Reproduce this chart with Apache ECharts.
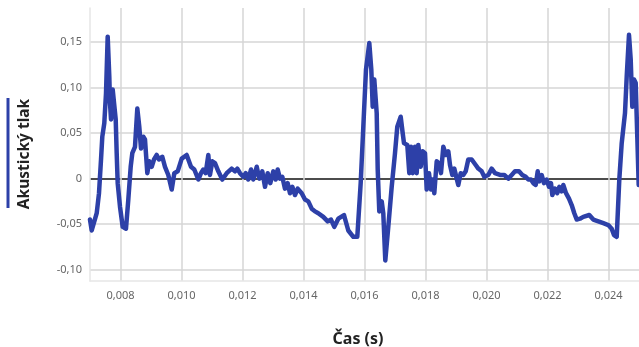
<!DOCTYPE html>
<html>
<head>
<meta charset="utf-8">
<script src="https://cdn.jsdelivr.net/npm/echarts@6/dist/echarts.min.js"></script>
<style>
  html, body { margin: 0; padding: 0; background: #fff; }
  #chart { width: 639px; height: 347px; }
</style>
</head>
<body>
<div id="chart"></div>
<script>
// čas v ms
const timeMs = [
  7.000, 7.056, 7.220, 7.295, 7.361, 7.403, 7.469, 7.525, 7.580, 7.633, 7.656, 7.689, 7.744, 7.797, 7.843, 7.875,
  7.908, 7.984, 8.072, 8.180, 8.256, 8.334, 8.387, 8.475, 8.551, 8.616, 8.672, 8.748, 8.803, 8.879, 8.944, 9.023,
  9.098, 9.187, 9.262, 9.370, 9.459, 9.567, 9.679, 9.764, 9.875, 10.007, 10.170, 10.311, 10.420, 10.551, 10.639, 10.715,
  10.793, 10.879, 10.934, 11.010, 11.098, 11.207, 11.338, 11.482, 11.646, 11.754, 11.830, 11.918, 12.026, 12.105, 12.190, 12.279,
  12.354, 12.466, 12.551, 12.649, 12.738, 12.826, 12.911, 13.010, 13.089, 13.154, 13.230, 13.305, 13.393, 13.482, 13.557, 13.633,
  13.721, 13.810, 13.941, 14.049, 14.157, 14.269, 14.377, 14.485, 14.649, 14.793, 14.902, 15.010, 15.141, 15.328, 15.469, 15.633,
  15.764, 15.875, 15.961, 16.049, 16.157, 16.223, 16.269, 16.321, 16.367, 16.400, 16.433, 16.485, 16.564, 16.616, 16.682, 16.780,
  16.892, 17.000, 17.075, 17.187, 17.252, 17.295, 17.403, 17.469, 17.525, 17.580, 17.656, 17.711, 17.764, 17.843, 17.908, 17.984,
  18.039, 18.115, 18.180, 18.236, 18.289, 18.367, 18.443, 18.508, 18.584, 18.672, 18.748, 18.803, 18.879, 18.944, 19.023, 19.075,
  19.154, 19.239, 19.318, 19.403, 19.515, 19.646, 19.731, 19.843, 19.928, 20.059, 20.170, 20.279, 20.443, 20.584, 20.715, 20.826,
  20.934, 21.066, 21.174, 21.285, 21.370, 21.459, 21.534, 21.613, 21.679, 21.731, 21.810, 21.885, 21.974, 22.049, 22.115, 22.157,
  22.246, 22.321, 22.387, 22.466, 22.518, 22.607, 22.705, 22.793, 22.879, 22.957, 23.066, 23.174, 23.230, 23.370, 23.502, 23.666,
  23.830, 23.993, 24.105, 24.180, 24.269, 24.354, 24.433, 24.541, 24.597, 24.672, 24.728, 24.780, 24.836, 24.892, 24.944, 24.990
]

// akustický tlak
const pressure = [
  -0.045, -0.057, -0.038, -0.016, 0.021, 0.046, 0.061, 0.094, 0.156, 0.112, 0.083, 0.065, 0.098, 0.098, 0.065, 0.028,
  -0.005, -0.031, -0.053, -0.055, -0.023, 0.013, 0.028, 0.035, 0.077, 0.057, 0.033, 0.046, 0.043, 0.006, 0.019, 0.013,
  0.021, 0.026, 0.021, 0.024, 0.013, 0.004, -0.012, 0.006, 0.008, 0.022, 0.026, 0.013, 0.010, -0.001, 0.006, 0.010,
  0.006, 0.026, 0.004, 0.019, 0.017, 0.008, -0.001, 0.006, 0.011, 0.008, 0.011, 0.006, 0.002, 0.006, -0.001, 0.010,
  -0.001, 0.013, 0.000, 0.008, -0.009, 0.006, -0.005, 0.008, -0.001, 0.010, 0.000, 0.002, -0.011, -0.005, -0.016, -0.009,
  -0.018, -0.011, -0.016, -0.023, -0.025, -0.033, -0.036, -0.038, -0.042, -0.047, -0.045, -0.053, -0.044, -0.040, -0.057, -0.064,
  -0.064, -0.005, 0.057, 0.120, 0.149, 0.120, 0.079, 0.109, 0.107, 0.072, 0.010, -0.036, -0.025, -0.038, -0.090, -0.053,
  -0.009, 0.028, 0.057, 0.068, 0.050, 0.039, 0.037, 0.006, 0.035, 0.006, 0.035, 0.006, 0.037, 0.013, 0.030, 0.028,
  -0.012, 0.006, -0.012, -0.001, -0.016, 0.019, 0.017, 0.006, 0.035, 0.026, 0.030, 0.015, 0.004, 0.011, 0.000, -0.007,
  0.006, 0.004, 0.008, 0.021, 0.021, 0.015, 0.011, 0.008, 0.002, 0.004, 0.011, 0.006, 0.004, 0.004, 0.000, 0.004,
  0.008, 0.008, 0.004, 0.002, -0.001, -0.001, -0.005, -0.007, 0.008, -0.003, 0.004, -0.005, -0.001, -0.009, -0.005, -0.018,
  -0.011, -0.016, -0.009, -0.014, -0.007, -0.016, -0.022, -0.029, -0.038, -0.045, -0.044, -0.042, -0.044, -0.040, -0.045, -0.047,
  -0.049, -0.051, -0.055, -0.062, -0.064, -0.001, 0.039, 0.072, 0.112, 0.158, 0.131, 0.079, 0.109, 0.105, 0.046, -0.007
]

// osy
const xMin = 0.007, xMax = 0.025, xStep = 0.001
const yMin = -0.1125, yMax = 0.1875, yStep = 0.0125
const yLabelStep = 0.05

const lineColor = '#2D40A8'
const gridColor = '#d6d6d6'
const fontFamily = '"Segoe UI", "Noto Sans", sans-serif'

const chart = echarts.init(document.getElementById('chart'))

const points = timeMs.map((t, i) => [t / 1000, pressure[i]])

// barvy mřížky – jen každá druhá svislá čára, vodorovné po 0,05, nula černá
const xLineColors = []
for (let v = xMin; v <= xMax + 1e-9; v += xStep) {
  xLineColors.push(Math.round(v * 1000) % 2 === 0 ? gridColor : 'rgba(0,0,0,0)')
}
const yLineColors = []
for (let i = 0; Math.round((yMin + i * yStep) * 10000) <= Math.round(yMax * 10000); i++) {
  const k = Math.round((yMin + i * yStep) * 10000)
  if (k === 0) yLineColors.push('#111')
  else if (k % 500 === 0) yLineColors.push(gridColor)
  else yLineColors.push('rgba(0,0,0,0)')
}

const option = {
  animation: false,
  grid: { left: 90, right: 0, top: 8, bottom: 66 },
  xAxis: {
    type: 'value',
    min: xMin,
    max: xMax,
    interval: xStep,
    axisLine: { show: true, onZero: false, lineStyle: { color: '#e6e6e6', width: 1.5 } },
    axisTick: { show: false },
    axisLabel: {
      margin: 9,
      color: '#666',
      fontSize: 11,
      fontFamily: fontFamily,
      showMinLabel: false,
      showMaxLabel: false,
      formatter: (v) => (Math.round(v * 1000) % 2 === 0 ? v.toFixed(3).replace('.', ',') : '')
    },
    splitLine: { show: true, lineStyle: { color: xLineColors, width: 1.5 } }
  },
  yAxis: {
    type: 'value',
    min: yMin,
    max: yMax,
    interval: yStep,
    axisLine: { show: true, onZero: false, lineStyle: { color: '#e6e6e6', width: 1.5 } },
    axisTick: { show: false },
    axisLabel: {
      margin: 8,
      color: '#666',
      fontSize: 11,
      fontFamily: fontFamily,
      formatter: (v) => {
        const k = Math.round(v * 10000)
        if (k % (yLabelStep * 10000) !== 0) return ''
        if (k === 0) return '0'
        return v.toFixed(2).replace('.', ',')
      }
    },
    splitLine: { show: true, lineStyle: { color: yLineColors, width: 1.5 } }
  },
  graphic: [
    {
      type: 'line',
      shape: { x1: 8, y1: 98, x2: 8, y2: 208 },
      style: { stroke: lineColor, lineWidth: 3 }
    },
    {
      type: 'text',
      x: 25,
      y: 154,
      rotation: Math.PI / 2,
      style: {
        text: 'Akustický tlak',
        align: 'center',
        verticalAlign: 'middle',
        fill: '#222',
        font: 'bold 15.5px ' + fontFamily
      }
    },
    {
      type: 'text',
      x: 358,
      y: 339,
      style: {
        text: 'Čas (s)',
        align: 'center',
        verticalAlign: 'middle',
        fill: '#222',
        font: 'bold 16px ' + fontFamily
      }
    }
  ],
  series: [
    {
      name: 'Akustický tlak',
      type: 'line',
      data: points,
      showSymbol: false,
      smooth: false,
      lineStyle: { color: lineColor, width: 4.5, cap: 'round', join: 'round' }
    }
  ]
}

chart.setOption(option)
window.addEventListener('resize', () => chart.resize())
</script>
</body>
</html>
